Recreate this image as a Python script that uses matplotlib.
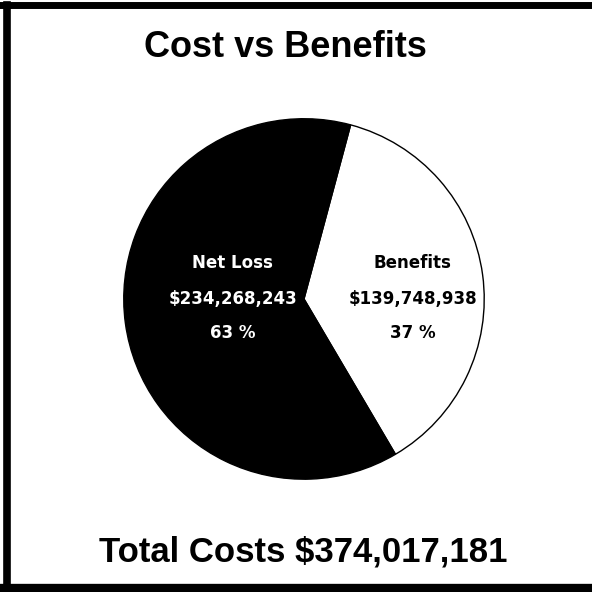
import matplotlib.pyplot as plt
from matplotlib.lines import Line2D

plt.rcParams['font.family'] = ['Liberation Sans', 'DejaVu Sans']

categories = ["Benefits", "Net Loss"]
amounts = [139748938, 234268243]
percents = [37, 63]
colors = ['white', 'black']
text_colors = ['black', 'white']
total_cost = 374017181

fig = plt.figure(figsize=(5.92, 5.92), dpi=100)

# scanned frame: left, top and bottom edges
fig.lines.append(Line2D([0.011, 0.011], [0.006, 0.991], transform=fig.transFigure,
                        color='black', linewidth=5.5))
fig.lines.append(Line2D([0.0, 1.0], [0.991, 0.991], transform=fig.transFigure,
                        color='black', linewidth=5))
fig.lines.append(Line2D([0.0, 1.0], [0.006, 0.006], transform=fig.transFigure,
                        color='black', linewidth=6))

fig.text(0.482, 0.92, "Cost vs Benefits", ha='center', va='center',
         fontsize=26, fontweight='bold')
fig.text(0.512, 0.067, "Total Costs ${:,}".format(total_cost), ha='center', va='center',
         fontsize=25, fontweight='bold')

ax = fig.add_axes([0.206, 0.1875, 0.615, 0.615])
ax.pie(amounts, colors=colors, startangle=75, counterclock=False, radius=1,
       wedgeprops=dict(edgecolor='black', linewidth=1))
ax.set_xlim(-1.01, 1.01)
ax.set_ylim(-1.01, 1.01)
ax.set_aspect('equal')
ax.axis('off')

label_x = [0.604, -0.396]
for i in range(len(categories)):
    x = label_x[i]
    c = text_colors[i]
    ax.text(x, 0.198, categories[i], ha='center', va='center', color=c,
            fontsize=12, fontweight='bold', family='DejaVu Sans')
    ax.text(x, 0.0, "${:,}".format(amounts[i]), ha='center', va='center', color=c,
            fontsize=12, fontweight='bold', family='DejaVu Sans')
    ax.text(x, -0.19, "{} %".format(percents[i]), ha='center', va='center', color=c,
            fontsize=12, fontweight='bold', family='DejaVu Sans')

fig.savefig("out.png", dpi=100)
